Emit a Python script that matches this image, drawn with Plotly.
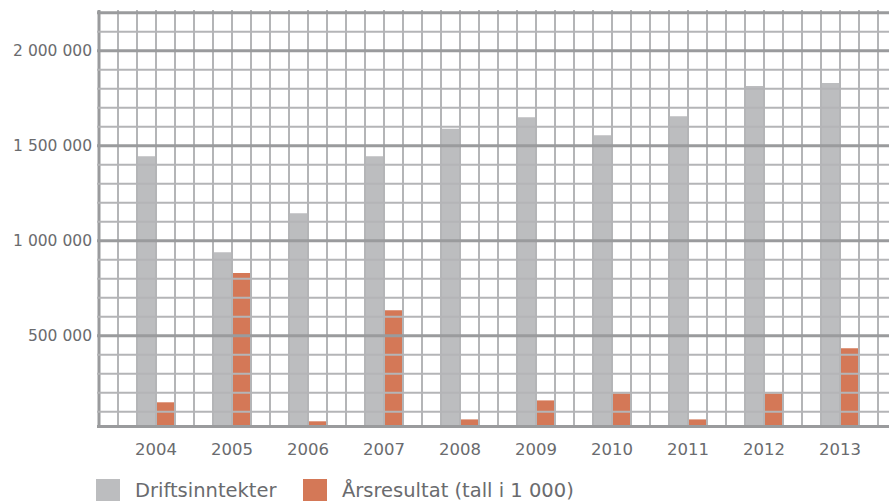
import plotly.graph_objects as go

# ---- data ----
years = ["2004", "2005", "2006", "2007", "2008", "2009", "2010", "2011", "2012", "2013"]
driftsinntekter = [1445000, 940000, 1145000, 1445000, 1590000, 1650000, 1555000, 1655000, 1815000, 1830000]
arsresultat = [150000, 830000, 50000, 635000, 60000, 160000, 197000, 60000, 197000, 435000]
y_tickvals = [500000, 1000000, 1500000, 2000000]
y_ticktext = ["500 000", "1 000 000", "1 500 000", "2 000 000"]
legend_labels = ["Driftsinntekter", "Årsresultat (tall i 1 000)"]

# ---- style ----
GREY = "#bcbdbf"
ORANGE = "#d47857"
MINOR = "#b4b5b7"
MAJOR = "#9a9b9d"
TEXT = "#6a6b6e"
FONT = "DejaVu Sans"

W, H = 889, 501
ML, MR, MT, MB = 97, 0, 10, 73
PW, PH = W - ML - MR, H - MT - MB

idx = list(range(len(years)))
x_range = [-0.7763, 9.6447]
y_range = [14737, 2214737]

fig = go.Figure()
fig.add_trace(go.Bar(x=idx, y=driftsinntekter, name=legend_labels[0],
                     marker=dict(color=GREY, line=dict(width=0)), showlegend=False))
fig.add_trace(go.Bar(x=idx, y=arsresultat, name=legend_labels[1],
                     marker=dict(color=ORANGE, line=dict(width=0)), showlegend=False))

shapes = []
# vertical grid (every quarter category), drawn above bars
n_v = 42
for k in range(n_v):
    xv = -0.75 + 0.25 * k
    first = (k == 0)
    shapes.append(dict(type="line", layer="above", xref="x", yref="paper",
                       x0=xv, x1=xv, y0=0, y1=1,
                       line=dict(color=MAJOR if first else MINOR, width=3 if first else 2)))
# horizontal grid every 100 000
for k in range(1, 23):
    yv = 100000 * k
    major = (k % 5 == 0) or k == 22
    shapes.append(dict(type="line", layer="above", xref="paper", yref="y",
                       x0=0, x1=1, y0=yv, y1=yv,
                       line=dict(color=MAJOR if major else MINOR, width=3 if major else 2)))
# bottom axis line
shapes.append(dict(type="line", layer="above", xref="paper", yref="y",
                   x0=0, x1=1, y0=22632, y1=22632, line=dict(color=MAJOR, width=3)))

# legend built from squares + text
def xp(px):
    return (px - ML) / PW

def yp(py):
    return (H - MB - py) / PH

leg_sq = [(96, GREY), (303, ORANGE)]
leg_tx = [133, 340]
annotations = []
for (sx, col), tx, lab in zip(leg_sq, leg_tx, legend_labels):
    shapes.append(dict(type="rect", xref="paper", yref="paper", layer="above",
                       x0=xp(sx), x1=xp(sx + 24), y0=yp(479), y1=yp(503),
                       fillcolor=col, line=dict(width=0)))
    annotations.append(dict(text=lab, xref="paper", yref="paper", x=xp(tx), y=yp(490),
                            xanchor="left", yanchor="middle", showarrow=False,
                            font=dict(family=FONT, size=19.5, color=TEXT)))

fig.update_layout(
    width=W, height=H,
    margin=dict(l=ML, r=MR, t=MT, b=MB),
    plot_bgcolor="white", paper_bgcolor="white",
    barmode="group", bargap=0.5, bargroupgap=0,
    showlegend=False,
    shapes=shapes, annotations=annotations,
    font=dict(family=FONT, color=TEXT),
)
fig.update_xaxes(range=x_range, tickvals=idx, ticktext=years, showgrid=False,
                 zeroline=False, showline=False, ticks="", ticklabelstandoff=9,
                 tickfont=dict(family=FONT, size=16.5, color=TEXT))
fig.update_yaxes(range=y_range, tickvals=y_tickvals, ticktext=y_ticktext, showgrid=False,
                 zeroline=False, showline=False, ticks="", ticklabelstandoff=4,
                 tickfont=dict(family=FONT, size=15.5, color=TEXT))

fig.write_html("out.html")
